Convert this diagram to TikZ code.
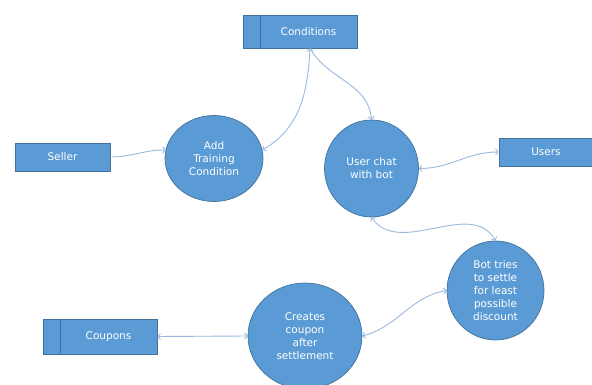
\documentclass[tikz,border=0pt]{standalone}
\usepackage{fontspec}
\setmainfont{DejaVu Sans}
\usetikzlibrary{shapes.geometric,arrows.meta}
\definecolor{boxfill}{RGB}{91,155,213}
\definecolor{boxline}{RGB}{65,113,156}
\definecolor{linkc}{RGB}{155,184,224}
\tikzset{
  x=1pt,y=1pt,
  txt/.style={text=white,font=\fontsize{10.5}{13}\selectfont,align=center},
  entity/.style={rectangle,draw=boxline,fill=boxfill,line width=0.7pt,inner sep=0pt,txt},
  proc/.style={ellipse,draw=boxline,fill=boxfill,line width=0.7pt,inner sep=0pt,txt},
  link/.style={draw=linkc,line width=0.9pt},
  tip/.tip={Straight Barb[length=2.5pt,width=6pt,line width=0.9pt]}
}
\begin{document}
\begin{tikzpicture}
\useasboundingbox (0,0) rectangle (592,-385);
% entities
\node[entity,minimum width=114,minimum height=33] (cond) at (300,-31.5) {};
\draw[boxline,line width=0.7pt] (260,-15) -- (260,-48);
\node[txt] (condt) at (308.5,-31.5) {Conditions};
\node[entity,minimum width=95,minimum height=28] (seller) at (62.5,-157) {Seller};
\node[entity,minimum width=94,minimum height=28] (users) at (546,-152) {Users};
\node[entity,minimum width=114,minimum height=35] (coupons) at (100,-336.5) {};
\draw[boxline,line width=0.7pt] (60,-319) -- (60,-354);
\node[txt] (coupt) at (108.5,-336.5) {Coupons};
% processes
\node[proc,minimum width=98,minimum height=86] (add) at (214,-158.5) {Add\\Training\\Condition};
\node[proc,minimum width=94,minimum height=97] (chat) at (371.5,-168.5) {User chat\\with bot};
\node[proc,minimum width=97,minimum height=99] (bot) at (495.5,-290.5) {Bot tries\\to settle\\for least\\possible\\discount};
\node[proc,minimum width=114,minimum height=106] (create) at (305,-336) {Creates\\coupon\\after\\settlement};
% connectors
\coordinate (cb) at ([xshift=10]cond.south);
\draw[link,-tip] (seller.east) to[out=0,in=180] (add.170);
\draw[link,tip-tip] (cb) to[out=-93,in=30] (add.10);
\draw[link,-tip] (cb) to[out=-60,in=95] (chat.north);
\draw[link,tip-tip] (chat.east) to[out=0,in=180] (users.west);
\draw[link,tip-tip] (chat.south) to[out=-55,in=120] (bot.north);
\draw[link,tip-tip] (create.east) to[out=15,in=190] (bot.west);
\draw[link,tip-tip] (coupons.east) -- (create.west);
\end{tikzpicture}
\end{document}
